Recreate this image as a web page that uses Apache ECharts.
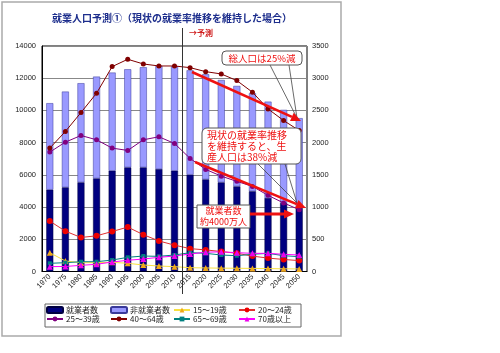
<!DOCTYPE html>
<html lang="ja">
<head>
<meta charset="UTF-8">
<title>就業人口予測</title>
<style>
  html, body { margin: 0; padding: 0; background: #fff; }
  #main { width: 500px; height: 353px; }
</style>
</head>
<body>
<div id="main"></div>
<script src="https://cdn.jsdelivr.net/npm/echarts@6/dist/echarts.min.js"></script>
<script>
// 年次
var years = ['1970', '1975', '1980', '1985', '1990', '1995', '2000', '2005', '2010',
             '2015', '2020', '2025', '2030', '2035', '2040', '2045', '2050'];
// 左軸（万人）: 就業者数 + 非就業者数 = 総人口
var employed    = [5080, 5225, 5535, 5780, 6255, 6465, 6465, 6360, 6255, 6010, 5720, 5535, 5285, 4980, 4565, 4255, 3945];
var nonEmployed = [5370, 5945, 6155, 6320, 6095, 6090, 6215, 6400, 6485, 6480, 6525, 6355, 6235, 6085, 5980, 5780, 5575];
// 右軸（万人）: 年齢別就業者数
var age15_19 = [292, 163, 137, 137, 143, 127, 101, 85, 75, 59, 55, 52, 50, 48, 45, 42, 40];
var age20_24 = [782, 626, 528, 554, 621, 689, 572, 474, 409, 355, 335, 310, 283, 239, 208, 187, 169];
var age25_39 = [1853, 2008, 2111, 2044, 1915, 1879, 2044, 2091, 1987, 1755, 1585, 1480, 1399, 1321, 1182, 1064, 960];
var age40_64 = [1915, 2173, 2467, 2767, 3180, 3294, 3221, 3190, 3190, 3164, 3102, 3066, 2963, 2783, 2524, 2343, 2188];
var age65_69 = [127, 137, 152, 152, 178, 220, 240, 235, 256, 292, 282, 256, 245, 267, 282, 245, 230];
var age70up  = [75, 78, 96, 112, 147, 174, 194, 220, 240, 271, 300, 305, 292, 282, 282, 267, 256];

var font = '"Noto Sans CJK JP", sans-serif';
var red = '#ee1111';

// 矢印（線＋三角）
function arrow(x1, y1, x2, y2, w) {
    var dx = x2 - x1, dy = y2 - y1;
    var len = Math.sqrt(dx * dx + dy * dy);
    var ux = dx / len, uy = dy / len;
    var hl = 10, hw = 4.5;
    var bx = x2 - ux * hl, by = y2 - uy * hl;
    return [
        { type: 'line', shape: { x1: x1, y1: y1, x2: bx, y2: by }, style: { stroke: red, lineWidth: w }, z: 100 },
        { type: 'polygon', shape: { points: [[x2, y2], [bx - uy * hw, by + ux * hw], [bx + uy * hw, by - ux * hw]] },
          style: { fill: red }, z: 100 }
    ];
}

function lineSeries(name, data, color, symbol, mColor, size) {
    return {
        name: name,
        type: 'line',
        yAxisIndex: 1,
        data: data,
        symbol: symbol,
        symbolSize: size || 6,
        lineStyle: { color: color, width: 1 },
        itemStyle: { color: mColor || color },
        z: 5
    };
}

var graphics = [
    // 外枠
    { type: 'rect', shape: { x: 2, y: 2, width: 339, height: 334 }, style: { fill: null, stroke: '#aaa', lineWidth: 1.5 }, z: -1 },
    // 予測の境界線
    { type: 'line', shape: { x1: 182.5, y1: 28, x2: 182.5, y2: 294 }, style: { stroke: '#333', lineWidth: 1 }, z: 50 },
    { type: 'text', x: 189, y: 29, style: { text: '→予測', fill: '#d02020', font: 'bold 8px ' + font }, z: 50 },
    // 凡例の枠
    { type: 'rect', shape: { x: 45, y: 304, width: 256, height: 23 }, style: { fill: null, stroke: '#666', lineWidth: 1 }, z: 1 },

    // 吹き出し1
    { type: 'line', shape: { x1: 270, y1: 65, x2: 297, y2: 118 }, style: { stroke: '#444', lineWidth: 0.8 }, z: 90 },
    { type: 'line', shape: { x1: 289, y1: 65, x2: 297, y2: 118 }, style: { stroke: '#444', lineWidth: 0.8 }, z: 90 },
    { type: 'rect', shape: { x: 222, y: 51, width: 80, height: 14, r: 4 }, style: { fill: '#fff', stroke: '#555', lineWidth: 1 }, z: 95 },
    { type: 'text', x: 262, y: 58, style: { text: '総人口は25%減', fill: red, font: '9.5px ' + font, align: 'center', verticalAlign: 'middle' }, z: 96 },

    // 吹き出し2
    { type: 'line', shape: { x1: 258, y1: 164, x2: 297, y2: 203 }, style: { stroke: '#444', lineWidth: 0.8 }, z: 90 },
    { type: 'line', shape: { x1: 285, y1: 164, x2: 297, y2: 203 }, style: { stroke: '#444', lineWidth: 0.8 }, z: 90 },
    { type: 'rect', shape: { x: 202, y: 128, width: 99, height: 36, r: 5 }, style: { fill: '#fff', stroke: '#555', lineWidth: 1 }, z: 95 },
    { type: 'text', x: 207, y: 130, style: { text: '現状の就業率推移\nを維持すると、生\n産人口は38%減', fill: red, font: '10px ' + font, lineHeight: 11 }, z: 96 },

    // 就業者数の箱
    { type: 'rect', shape: { x: 197, y: 205, width: 53, height: 23 }, style: { fill: '#fff', stroke: '#555', lineWidth: 1 }, z: 95 },
    { type: 'text', x: 223.5, y: 216.5, style: { text: '就業者数\n約4000万人', fill: red, font: '9px ' + font, lineHeight: 11, align: 'center', verticalAlign: 'middle' }, z: 96 }
];
graphics = graphics.concat(arrow(192, 72, 301, 121, 2.5));
graphics = graphics.concat(arrow(195, 162, 306, 208, 2.5));
graphics = graphics.concat(arrow(250, 214, 294, 214, 3));

function legendCol(left, names) {
    return {
        orient: 'vertical',
        left: left,
        top: 306,
        itemGap: 1,
        itemWidth: 16,
        itemHeight: 6,
        padding: 0,
        data: names,
        textStyle: { fontSize: 8, color: '#222', fontFamily: font, padding: [0, 0, 0, -2] }
    };
}

function plain(v) { return String(v); }

var option = {
    animation: false,
    textStyle: { fontFamily: font },
    title: {
        text: '就業人口予測①（現状の就業率推移を維持した場合）',
        left: 52,
        top: 13,
        padding: 0,
        textStyle: { fontSize: 10, fontWeight: 'bold', color: '#1c2d8c', fontFamily: font }
    },
    legend: [
        legendCol(46, ['就業者数', '25～39歳']),
        legendCol(110, ['非就業者数', '40～64歳']),
        legendCol(173, ['15～19歳', '65～69歳']),
        legendCol(238, ['20～24歳', '70歳以上'])
    ],
    grid: {
        left: 42, right: 193, top: 46, bottom: 81.5,
        show: true, borderColor: '#000', borderWidth: 1, backgroundColor: '#fff'
    },
    xAxis: {
        type: 'category',
        data: years,
        axisLine: { lineStyle: { color: '#000' } },
        axisTick: { show: false },
        axisLabel: { rotate: 45, fontSize: 7.5, color: '#222', margin: 4, interval: 0, fontFamily: 'Liberation Sans' }
    },
    yAxis: [
        {
            type: 'value', min: 0, max: 14000, interval: 2000,
            axisLine: { show: true, lineStyle: { color: '#000' } },
            axisTick: { show: false },
            splitLine: { lineStyle: { color: '#888', width: 1 } },
            axisLabel: { fontSize: 7.5, color: '#222', margin: 6, fontFamily: 'Liberation Sans', formatter: plain }
        },
        {
            type: 'value', min: 0, max: 3500, interval: 500,
            axisLine: { show: false },
            axisTick: { show: false },
            splitLine: { show: false },
            axisLabel: { fontSize: 7.5, color: '#222', margin: 5, fontFamily: 'Liberation Sans', formatter: plain }
        }
    ],
    series: [
        {
            name: '就業者数', type: 'bar', stack: 'pop', barWidth: 7, data: employed,
            itemStyle: { color: '#000080', borderColor: '#000040', borderWidth: 0.5 }
        },
        {
            name: '非就業者数', type: 'bar', stack: 'pop', barWidth: 7, data: nonEmployed,
            itemStyle: { color: '#9999ff', borderColor: '#3a3a9a', borderWidth: 0.5 }
        },
        lineSeries('15～19歳', age15_19, '#f8e040', 'triangle', '#f0a818', 6),
        lineSeries('20～24歳', age20_24, '#e03030', 'circle', '#ee0000', 6),
        lineSeries('25～39歳', age25_39, '#800080', 'circle', '#800080', 5),
        lineSeries('40～64歳', age40_64, '#800000', 'circle', '#800000', 5),
        lineSeries('65～69歳', age65_69, '#008080', 'rect', '#008080', 4),
        lineSeries('70歳以上', age70up, '#ff00ff', 'triangle', '#ee00ee', 6)
    ],
    graphic: graphics
};

var chart = echarts.init(document.getElementById('main'), null, { renderer: 'canvas' });
chart.setOption(option);
</script>
</body>
</html>
